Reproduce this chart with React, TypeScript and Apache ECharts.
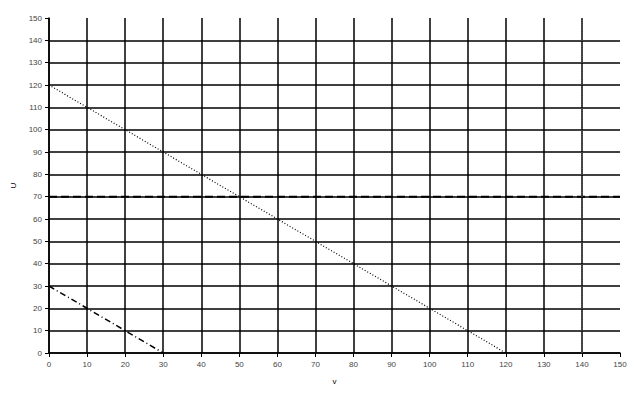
import React, { useEffect, useRef } from "react";
import * as echarts from "echarts";

const lineA: [number, number][] = [[0, 120], [120, 0]];
const lineB: [number, number][] = [[0, 70], [150, 70]];
const lineC: [number, number][] = [[0, 30], [30, 0]];
const lineD: [number, number][] = [[140, 0], [140, 150]];
const xName = "v";
const yName = "U";

export default function App() {
  const ref = useRef<HTMLDivElement>(null);
  useEffect(() => {
    const chart = echarts.init(ref.current!, null, { renderer: "svg" });
    const axisLabel = { fontSize: 8, color: "#444", fontFamily: "Arial" };
    chart.setOption({
      animation: false,
      backgroundColor: "#fff",
      grid: { left: 49, right: 21, top: 18, bottom: 46, containLabel: false },
      xAxis: {
        type: "value", min: 0, max: 150, interval: 10,
        name: xName, nameLocation: "middle", nameGap: 24,
        nameTextStyle: { fontSize: 8, color: "#000" },
        axisLine: { show: true, lineStyle: { color: "#000", width: 1.5 } },
        axisTick: { show: true, length: 4, lineStyle: { color: "#000" } },
        axisLabel: { ...axisLabel, margin: 7, showMaxLabel: true },
        splitLine: { show: true, showMaxLine: false, lineStyle: { color: "#000", width: 1.5 } },
      },
      yAxis: {
        type: "value", min: 0, max: 150, interval: 10,
        name: yName, nameLocation: "middle", nameGap: 26,
        nameTextStyle: { fontSize: 8, color: "#000" },
        axisLine: { show: true, lineStyle: { color: "#000", width: 1.5 } },
        axisTick: { show: true, length: 4, lineStyle: { color: "#000" } },
        axisLabel: { ...axisLabel, margin: 7 },
        splitLine: { show: true, showMaxLine: false, lineStyle: { color: "#000", width: 1.5 } },
      },
      series: [
        { type: "line", data: lineA, symbol: "none", lineStyle: { color: "#000", width: 1.2, type: [1, 2] } },
        { type: "line", data: lineB, symbol: "none", lineStyle: { color: "#000", width: 2, type: [8, 4] } },
        { type: "line", data: lineC, symbol: "none", lineStyle: { color: "#000", width: 1.5, type: [6, 3, 1, 3] } },
        { type: "line", data: lineD, symbol: "none", lineStyle: { color: "#555", width: 1.5, type: [1, 1] } },
      ],
    });
    return () => chart.dispose();
  }, []);
  return <div ref={ref} style={{ width: 641, height: 399, position: "absolute", left: 0, top: 0 }} />;
}
